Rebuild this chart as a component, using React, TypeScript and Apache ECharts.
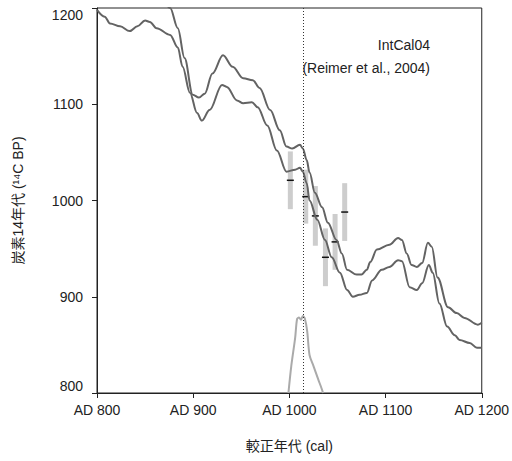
import React, { useEffect, useRef } from "react";
import * as echarts from "echarts";

// IntCal04 calibration curve, upper envelope [cal AD, 14C BP]
const upperCurve: [number, number][] = [
  [868, 1212], [876, 1200], [884, 1179], [891, 1148], [899.5, 1110], [906, 1107], [912, 1111],
  [920, 1132], [931, 1151], [941, 1139], [952, 1127], [962, 1125], [969, 1117], [980, 1094],
  [990, 1073], [997, 1056], [1003, 1054], [1011, 1058], [1014, 1054], [1018, 1042], [1021, 1029],
  [1026.5, 1008], [1034, 993], [1040, 977], [1049, 959], [1054.5, 945], [1060, 928], [1070, 923],
  [1075, 923], [1080.5, 928], [1084, 936], [1091, 949], [1104, 954], [1113, 961], [1117, 959],
  [1122, 945], [1127, 933], [1132.5, 931], [1138, 935], [1144, 956], [1148, 952], [1154, 920],
  [1165, 889], [1174, 883], [1182, 878], [1196, 871], [1200, 873],
];

// lower envelope
const lowerCurve: [number, number][] = [
  [800, 1198], [808, 1191], [813.5, 1184], [824, 1181], [834, 1176], [842, 1181], [850, 1187],
  [855, 1185.5], [862, 1179], [876, 1172], [884, 1159], [889, 1139], [896.6, 1112], [904, 1091],
  [909, 1083], [917, 1094], [930, 1120], [935, 1118], [945.5, 1104], [952, 1101], [961, 1102],
  [967, 1097], [977, 1078], [987, 1052], [997, 1030], [1006, 1032], [1011, 1034], [1014, 1030],
  [1018, 1018], [1021, 1000], [1029, 980], [1037, 959], [1044, 941], [1052.5, 925], [1060, 907],
  [1066, 900], [1073, 902], [1080.5, 904], [1086, 917], [1096, 928], [1104, 931], [1113, 938],
  [1117, 937], [1125, 910], [1132.5, 907], [1138, 914], [1145, 933], [1149, 925], [1156, 893],
  [1164, 869], [1172, 860], [1177, 855], [1187.5, 852], [1195, 847], [1200, 847],
];

// measurements (wiggle-matching)
const sampleYears = [1001, 1017, 1027, 1037.5, 1047.5, 1057.5];
const sampleBP = [1021, 1004, 984, 941, 957, 988];
const sampleErr = [30, 28, 31, 30, 29, 30];

// probability distribution of the fitted date
const probYears = [999, 1002, 1006, 1008, 1010, 1012, 1014, 1016, 1018.5, 1021, 1025, 1030, 1033.5, 1035];
const probDensity = [0, 0.36, 0.73, 0.98, 1.0, 0.97, 1.02, 0.99, 0.82, 0.5, 0.36, 0.18, 0.06, 0];

const bestYear = 1014;

const xTicks = [800, 900, 1000, 1100, 1200];
const yTicks = [800, 900, 1000, 1100, 1200];

const FONT = "'Liberation Sans', 'Noto Sans CJK JP', sans-serif";

export default function App() {
  const ref = useRef<HTMLDivElement>(null);

  useEffect(() => {
    if (!ref.current) return;
    const chart = echarts.init(ref.current, undefined, { renderer: "svg" });

    const sampleData = sampleYears.map((y, i) => [y, sampleBP[i], sampleErr[i]]);
    const probData = probYears.map((y, i) => [y, probDensity[i]]);

    chart.setOption({
      animation: false,
      backgroundColor: "#fff",
      textStyle: { fontFamily: FONT },
      grid: {
        left: 97,
        right: 30,
        top: 8,
        bottom: 68,
        show: true,
        borderColor: "#222",
        borderWidth: 1,
        backgroundColor: "transparent",
      },
      xAxis: {
        type: "value",
        min: xTicks[0],
        max: xTicks[xTicks.length - 1],
        interval: 100,
        name: "較正年代 (cal)",
        nameLocation: "middle",
        nameGap: 46,
        nameTextStyle: { fontSize: 14, color: "#222", fontFamily: FONT, verticalAlign: "top" },
        axisLine: { lineStyle: { color: "#222", width: 1 } },
        axisTick: { show: true, inside: false, length: 5, lineStyle: { color: "#222" } },
        axisLabel: {
          formatter: (v: number) => "AD " + String(v),
          fontSize: 14,
          color: "#222",
          margin: 10,
          fontFamily: FONT,
        },
        splitLine: { show: false },
      },
      yAxis: [
        {
          type: "value",
          min: yTicks[0],
          max: yTicks[yTicks.length - 1],
          interval: 100,
          name: "炭素14年代 (¹⁴C BP)",
          nameLocation: "middle",
          nameGap: 72,
          nameTextStyle: { fontSize: 14, color: "#222", fontFamily: FONT },
          axisLine: { show: true, lineStyle: { color: "#222", width: 1 } },
          axisTick: { show: true, inside: false, length: 5, lineStyle: { color: "#222" } },
          axisLabel: {
            formatter: (v: number) => String(v),
            fontSize: 14,
            color: "#222",
            margin: 14,
            fontFamily: FONT,
            verticalAlignMinLabel: "bottom",
            verticalAlignMaxLabel: "top",
          },
          splitLine: { show: false },
        },
        {
          type: "value",
          min: 0,
          max: 5.1,
          show: false,
        },
      ],
      graphic: [
        {
          type: "text",
          right: 82,
          top: 38,
          style: { text: "IntCal04", fontSize: 14, fill: "#222", fontFamily: FONT },
        },
        {
          type: "text",
          right: 82,
          top: 61,
          style: { text: "(Reimer et al., 2004)", fontSize: 14, fill: "#222", fontFamily: FONT },
        },
      ],
      series: [
        {
          type: "custom",
          z: 1,
          data: sampleData,
          encode: { x: 0, y: 1 },
          renderItem: (params: any, api: any) => {
            const x = api.value(0);
            const v = api.value(1);
            const e = api.value(2);
            const top = api.coord([x, v + e]);
            const bot = api.coord([x, v - e]);
            const mid = api.coord([x, v]);
            return {
              type: "group",
              children: [
                {
                  type: "rect",
                  shape: { x: top[0] - 2.5, y: top[1], width: 5, height: bot[1] - top[1] },
                  style: { fill: "#cdcdcd" },
                },
                {
                  type: "line",
                  shape: { x1: mid[0] - 3.5, y1: mid[1], x2: mid[0] + 3.5, y2: mid[1] },
                  style: { stroke: "#111", lineWidth: 1.5 },
                },
              ],
            };
          },
        },
        {
          type: "line",
          z: 2,
          yAxisIndex: 1,
          data: probData,
          symbol: "none",
          smooth: 0.3,
          lineStyle: { color: "#aaaaaa", width: 2 },
        },
        {
          type: "line",
          z: 3,
          data: upperCurve,
          symbol: "none",
          smooth: 0.35,
          smoothMonotone: "x",
          lineStyle: { color: "#636363", width: 2 },
          markLine: {
            silent: true,
            symbol: "none",
            label: { show: false },
            lineStyle: { color: "#333", type: [1, 2], width: 1 },
            data: [{ xAxis: bestYear }],
          },
        },
        {
          type: "line",
          z: 3,
          data: lowerCurve,
          symbol: "none",
          smooth: 0.35,
          smoothMonotone: "x",
          lineStyle: { color: "#636363", width: 2 },
        },
      ],
    });

    return () => chart.dispose();
  }, []);

  return (
    <div
      ref={ref}
      style={{ position: "fixed", left: 0, top: 0, width: 512, height: 461 }}
    />
  );
}
